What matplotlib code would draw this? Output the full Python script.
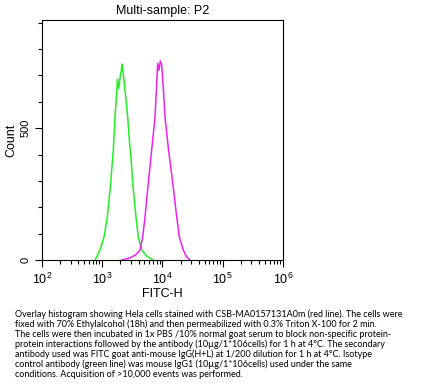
import matplotlib
matplotlib.use("Agg")
import matplotlib.pyplot as plt
from matplotlib.ticker import LogLocator, FixedLocator, NullFormatter

# Isotype control (green) - FITC-H values and counts
green_x = [760, 918, 1070, 1213, 1381, 1525, 1628, 1738, 1790, 1850, 1920, 2000,
           2080, 2153, 2250, 2415, 2644, 2850, 3000, 3200, 3630, 3965, 4520,
           5500, 6950]
green_y = [0, 38, 87, 163, 292, 417, 542, 633, 685, 650, 665, 700,
           720, 743, 700, 633, 542, 440, 390, 292, 163, 87, 38,
           14, 0]

# Antibody sample (magenta)
mag_x = [2128, 2890, 3634, 4234, 4694, 5123, 5813, 6617, 7510, 7940, 8323,
         8750, 9190, 9700, 10400, 11000, 12700, 14800, 17230, 19010, 22130,
         25000, 28570]
mag_y = [0, 8, 20, 38, 87, 163, 292, 417, 542, 650, 745,
         720, 755, 740, 640, 542, 410, 292, 163, 87, 38,
         12, 0]

title = "Multi-sample: P2"
xlabel = "FITC-H"
ylabel = "Count"
ytick_major = [0, 500]
caption = ("Overlay histogram showing Hela cells stained with CSB-MA0157131A0m (red line). The cells were\n"
           "fixed with 70% Ethylalcohol (18h) and then permeabilized with 0.3% Triton X-100 for 2 min.\n"
           "The cells were then incubated in 1x PBS /10% normal goat serum to block non-specific protein-\n"
           "protein interactions followed by the antibody (10\u00b5g/1*106cells) for 1 h at 4\u00b0C. The secondary\n"
           "antibody used was FITC goat anti-mouse IgG(H+L) at 1/200 dilution for 1 h at 4\u00b0C. Isotype\n"
           "control antibody (green line) was mouse IgG1 (10\u00b5g/1*106cells) used under the same\n"
           "conditions. Acquisition of >10,000 events was performed.")

plt.rcParams['font.family'] = ['Liberation Sans', 'DejaVu Sans']

W, H = 425, 390
fig = plt.figure(figsize=(W / 100, H / 100), dpi=100)
ax = fig.add_axes([42 / W, 1 - 260 / H, (283 - 42) / W, (260 - 20) / H])

ax.plot(green_x, green_y, color="#22ee22", lw=1.1)
ax.plot(mag_x, mag_y, color="#ee22ee", lw=1.1)

ax.set_xscale("log")
ax.set_xlim(1e2, 1e6)
ax.set_ylim(0, 910)
ax.xaxis.set_major_locator(LogLocator(base=10, numticks=10))
ax.xaxis.set_minor_locator(LogLocator(base=10, subs=range(2, 10), numticks=100))
ax.xaxis.set_minor_formatter(NullFormatter())
ax.yaxis.set_major_locator(FixedLocator(ytick_major))
ax.yaxis.set_minor_locator(FixedLocator([100, 200, 300, 400, 600, 700, 800, 900]))
ax.set_yticklabels([str(v) for v in ytick_major], rotation=90, va="center", fontsize=8)

ax.tick_params(axis="both", which="major", direction="out", length=5, width=0.8, labelsize=9)
ax.tick_params(axis="y", which="major", labelsize=8)
ax.tick_params(axis="both", which="minor", direction="out", length=3, width=0.8)
for s in ax.spines.values():
    s.set_linewidth(0.8)

ax.set_title(title, fontsize=9, pad=4)
ax.set_xlabel(xlabel, fontsize=9, labelpad=1)
ax.set_ylabel(ylabel, fontsize=9, labelpad=2)

fig.text(15 / W, 1 - 309 / H, caption, fontsize=6.5, family=['Lato', 'DejaVu Sans'],
         va="top", ha="left", linespacing=1.1)

fig.savefig("out.png", dpi=100)
